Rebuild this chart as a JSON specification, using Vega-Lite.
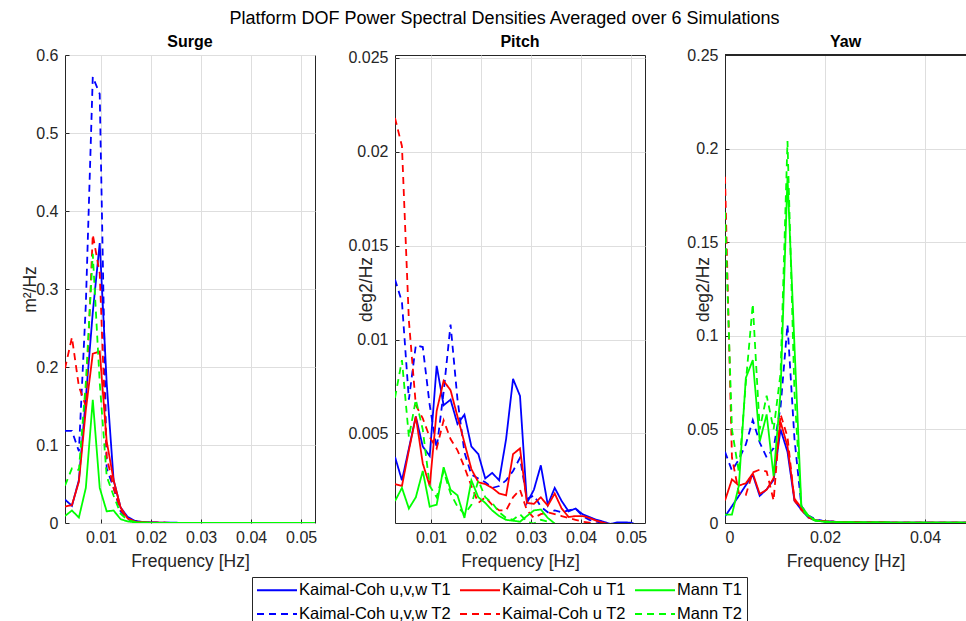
{
  "$schema": "https://vega.github.io/schema/vega-lite/v6.json",
  "autosize": {"type": "pad"},
  "padding": {"left": 20, "top": 10, "right": 0, "bottom": 0},
  "background": "white",
  "title": {"text": "Platform DOF Power Spectral Densities Averaged over 6 Simulations", "fontSize": 18, "fontWeight": "normal", "color": "black", "anchor": "middle", "offset": 5, "dx": 11},
  "config": {
    "font": "Liberation Sans",
    "view": {"stroke": "#262626", "strokeWidth": 1},
    "axis": {"gridColor": "#dedede", "gridWidth": 1, "labelFontSize": 16, "labelColor": "#262626", "titleFontSize": 17.5, "titleFontWeight": "normal", "titleColor": "#262626", "ticks": true, "tickSize": -4, "tickColor": "#262626", "tickWidth": 1, "domain": false, "labelPadding": 11, "labelFont": "Liberation Sans", "titleFont": "Liberation Sans"},
    "title": {"font": "Liberation Sans"},
    "legend": {"labelFont": "Liberation Sans"}
  },
  "datasets": {
    "surge": [
      {"s":"Kaimal-Coh u,v,w T1","f":0.002778,"v":0.03},{"s":"Kaimal-Coh u,v,w T1","f":0.004167,"v":0.022},{"s":"Kaimal-Coh u,v,w T1","f":0.005556,"v":0.055},{"s":"Kaimal-Coh u,v,w T1","f":0.006944,"v":0.16},{"s":"Kaimal-Coh u,v,w T1","f":0.008333,"v":0.27},{"s":"Kaimal-Coh u,v,w T1","f":0.009722,"v":0.359},{"s":"Kaimal-Coh u,v,w T1","f":0.011111,"v":0.18},{"s":"Kaimal-Coh u,v,w T1","f":0.0125,"v":0.055},{"s":"Kaimal-Coh u,v,w T1","f":0.013889,"v":0.02},{"s":"Kaimal-Coh u,v,w T1","f":0.015278,"v":0.008},{"s":"Kaimal-Coh u,v,w T1","f":0.016667,"v":0.003},{"s":"Kaimal-Coh u,v,w T1","f":0.018056,"v":0.0015},{"s":"Kaimal-Coh u,v,w T1","f":0.019444,"v":0.001},{"s":"Kaimal-Coh u,v,w T1","f":0.022222,"v":0.0004},{"s":"Kaimal-Coh u,v,w T1","f":0.027778,"v":0.0002},{"s":"Kaimal-Coh u,v,w T1","f":0.038889,"v":0.0001},{"s":"Kaimal-Coh u,v,w T1","f":0.052778,"v":0.0001},
      {"s":"Kaimal-Coh u,v,w T2","f":0.002778,"v":0.118},{"s":"Kaimal-Coh u,v,w T2","f":0.004167,"v":0.118},{"s":"Kaimal-Coh u,v,w T2","f":0.005556,"v":0.092},{"s":"Kaimal-Coh u,v,w T2","f":0.006944,"v":0.28},{"s":"Kaimal-Coh u,v,w T2","f":0.008333,"v":0.572},{"s":"Kaimal-Coh u,v,w T2","f":0.009722,"v":0.55},{"s":"Kaimal-Coh u,v,w T2","f":0.011111,"v":0.07},{"s":"Kaimal-Coh u,v,w T2","f":0.0125,"v":0.045},{"s":"Kaimal-Coh u,v,w T2","f":0.013889,"v":0.015},{"s":"Kaimal-Coh u,v,w T2","f":0.015278,"v":0.005},{"s":"Kaimal-Coh u,v,w T2","f":0.016667,"v":0.002},{"s":"Kaimal-Coh u,v,w T2","f":0.018056,"v":0.001},{"s":"Kaimal-Coh u,v,w T2","f":0.019444,"v":0.0006},{"s":"Kaimal-Coh u,v,w T2","f":0.022222,"v":0.0003},{"s":"Kaimal-Coh u,v,w T2","f":0.027778,"v":0.0002},{"s":"Kaimal-Coh u,v,w T2","f":0.038889,"v":0.0001},{"s":"Kaimal-Coh u,v,w T2","f":0.052778,"v":0.0001},
      {"s":"Kaimal-Coh u T1","f":0.002778,"v":0.021},{"s":"Kaimal-Coh u T1","f":0.004167,"v":0.023},{"s":"Kaimal-Coh u T1","f":0.005556,"v":0.053},{"s":"Kaimal-Coh u T1","f":0.006944,"v":0.145},{"s":"Kaimal-Coh u T1","f":0.008333,"v":0.217},{"s":"Kaimal-Coh u T1","f":0.009722,"v":0.22},{"s":"Kaimal-Coh u T1","f":0.011111,"v":0.105},{"s":"Kaimal-Coh u T1","f":0.0125,"v":0.055},{"s":"Kaimal-Coh u T1","f":0.013889,"v":0.02},{"s":"Kaimal-Coh u T1","f":0.015278,"v":0.006},{"s":"Kaimal-Coh u T1","f":0.016667,"v":0.002},{"s":"Kaimal-Coh u T1","f":0.018056,"v":0.001},{"s":"Kaimal-Coh u T1","f":0.019444,"v":0.0007},{"s":"Kaimal-Coh u T1","f":0.022222,"v":0.0003},{"s":"Kaimal-Coh u T1","f":0.027778,"v":0.0002},{"s":"Kaimal-Coh u T1","f":0.038889,"v":0.0001},{"s":"Kaimal-Coh u T1","f":0.052778,"v":0.0001},
      {"s":"Kaimal-Coh u T2","f":0.002778,"v":0.198},{"s":"Kaimal-Coh u T2","f":0.004167,"v":0.238},{"s":"Kaimal-Coh u T2","f":0.005556,"v":0.175},{"s":"Kaimal-Coh u T2","f":0.006944,"v":0.15},{"s":"Kaimal-Coh u T2","f":0.008333,"v":0.37},{"s":"Kaimal-Coh u T2","f":0.009722,"v":0.32},{"s":"Kaimal-Coh u T2","f":0.011111,"v":0.085},{"s":"Kaimal-Coh u T2","f":0.0125,"v":0.045},{"s":"Kaimal-Coh u T2","f":0.013889,"v":0.017},{"s":"Kaimal-Coh u T2","f":0.015278,"v":0.006},{"s":"Kaimal-Coh u T2","f":0.016667,"v":0.002},{"s":"Kaimal-Coh u T2","f":0.018056,"v":0.001},{"s":"Kaimal-Coh u T2","f":0.019444,"v":0.0006},{"s":"Kaimal-Coh u T2","f":0.022222,"v":0.0003},{"s":"Kaimal-Coh u T2","f":0.027778,"v":0.0002},{"s":"Kaimal-Coh u T2","f":0.038889,"v":0.0001},{"s":"Kaimal-Coh u T2","f":0.052778,"v":0.0001},
      {"s":"Mann T1","f":0.002778,"v":0.009},{"s":"Mann T1","f":0.004167,"v":0.016},{"s":"Mann T1","f":0.005556,"v":0.007},{"s":"Mann T1","f":0.006944,"v":0.045},{"s":"Mann T1","f":0.008333,"v":0.158},{"s":"Mann T1","f":0.009722,"v":0.045},{"s":"Mann T1","f":0.011111,"v":0.015},{"s":"Mann T1","f":0.0125,"v":0.016},{"s":"Mann T1","f":0.013889,"v":0.005},{"s":"Mann T1","f":0.015278,"v":0.002},{"s":"Mann T1","f":0.016667,"v":0.001},{"s":"Mann T1","f":0.018056,"v":0.0005},{"s":"Mann T1","f":0.019444,"v":0.0003},{"s":"Mann T1","f":0.022222,"v":0.0002},{"s":"Mann T1","f":0.027778,"v":0.0001},{"s":"Mann T1","f":0.038889,"v":0.0001},{"s":"Mann T1","f":0.052778,"v":0.0001},
      {"s":"Mann T2","f":0.002778,"v":0.048},{"s":"Mann T2","f":0.004167,"v":0.07},{"s":"Mann T2","f":0.005556,"v":0.068},{"s":"Mann T2","f":0.006944,"v":0.18},{"s":"Mann T2","f":0.008333,"v":0.345},{"s":"Mann T2","f":0.009722,"v":0.18},{"s":"Mann T2","f":0.011111,"v":0.06},{"s":"Mann T2","f":0.0125,"v":0.035},{"s":"Mann T2","f":0.013889,"v":0.012},{"s":"Mann T2","f":0.015278,"v":0.004},{"s":"Mann T2","f":0.016667,"v":0.0015},{"s":"Mann T2","f":0.018056,"v":0.0006},{"s":"Mann T2","f":0.019444,"v":0.0003},{"s":"Mann T2","f":0.022222,"v":0.0002},{"s":"Mann T2","f":0.027778,"v":0.0001},{"s":"Mann T2","f":0.038889,"v":0.0001},{"s":"Mann T2","f":0.052778,"v":0.0001}
    ],
    "pitch": [
      {"s":"Kaimal-Coh u,v,w T1","f":0.002778,"v":0.00375},{"s":"Kaimal-Coh u,v,w T1","f":0.004167,"v":0.0025},{"s":"Kaimal-Coh u,v,w T1","f":0.005556,"v":0.0042},{"s":"Kaimal-Coh u,v,w T1","f":0.006944,"v":0.0059},{"s":"Kaimal-Coh u,v,w T1","f":0.008333,"v":0.0043},{"s":"Kaimal-Coh u,v,w T1","f":0.009722,"v":0.0038},{"s":"Kaimal-Coh u,v,w T1","f":0.011111,"v":0.0086},{"s":"Kaimal-Coh u,v,w T1","f":0.0125,"v":0.0065},{"s":"Kaimal-Coh u,v,w T1","f":0.013889,"v":0.0068},{"s":"Kaimal-Coh u,v,w T1","f":0.015278,"v":0.0055},{"s":"Kaimal-Coh u,v,w T1","f":0.016667,"v":0.006},{"s":"Kaimal-Coh u,v,w T1","f":0.018056,"v":0.0043},{"s":"Kaimal-Coh u,v,w T1","f":0.019444,"v":0.0039},{"s":"Kaimal-Coh u,v,w T1","f":0.020833,"v":0.0026},{"s":"Kaimal-Coh u,v,w T1","f":0.022222,"v":0.0029},{"s":"Kaimal-Coh u,v,w T1","f":0.023611,"v":0.0025},{"s":"Kaimal-Coh u,v,w T1","f":0.025,"v":0.0047},{"s":"Kaimal-Coh u,v,w T1","f":0.026389,"v":0.0079},{"s":"Kaimal-Coh u,v,w T1","f":0.027778,"v":0.007},{"s":"Kaimal-Coh u,v,w T1","f":0.029167,"v":0.0013},{"s":"Kaimal-Coh u,v,w T1","f":0.030556,"v":0.002},{"s":"Kaimal-Coh u,v,w T1","f":0.031944,"v":0.0033},{"s":"Kaimal-Coh u,v,w T1","f":0.033333,"v":0.0012},{"s":"Kaimal-Coh u,v,w T1","f":0.034722,"v":0.0021},{"s":"Kaimal-Coh u,v,w T1","f":0.036111,"v":0.0014},{"s":"Kaimal-Coh u,v,w T1","f":0.0375,"v":0.00085},{"s":"Kaimal-Coh u,v,w T1","f":0.038889,"v":0.001},{"s":"Kaimal-Coh u,v,w T1","f":0.040278,"v":0.0007},{"s":"Kaimal-Coh u,v,w T1","f":0.041667,"v":0.00055},{"s":"Kaimal-Coh u,v,w T1","f":0.043056,"v":0.0004},{"s":"Kaimal-Coh u,v,w T1","f":0.044444,"v":0.0003},{"s":"Kaimal-Coh u,v,w T1","f":0.045833,"v":0.00018},{"s":"Kaimal-Coh u,v,w T1","f":0.047222,"v":0.00026},{"s":"Kaimal-Coh u,v,w T1","f":0.048611,"v":0.00026},{"s":"Kaimal-Coh u,v,w T1","f":0.05,"v":0.00025},{"s":"Kaimal-Coh u,v,w T1","f":0.051389,"v":0.0001},{"s":"Kaimal-Coh u,v,w T1","f":0.052778,"v":0.0001},
      {"s":"Kaimal-Coh u,v,w T2","f":0.002778,"v":0.0132},{"s":"Kaimal-Coh u,v,w T2","f":0.004167,"v":0.012},{"s":"Kaimal-Coh u,v,w T2","f":0.005556,"v":0.0068},{"s":"Kaimal-Coh u,v,w T2","f":0.006944,"v":0.0097},{"s":"Kaimal-Coh u,v,w T2","f":0.008333,"v":0.0096},{"s":"Kaimal-Coh u,v,w T2","f":0.009722,"v":0.0065},{"s":"Kaimal-Coh u,v,w T2","f":0.011111,"v":0.0042},{"s":"Kaimal-Coh u,v,w T2","f":0.0125,"v":0.0072},{"s":"Kaimal-Coh u,v,w T2","f":0.013889,"v":0.0108},{"s":"Kaimal-Coh u,v,w T2","f":0.015278,"v":0.0068},{"s":"Kaimal-Coh u,v,w T2","f":0.016667,"v":0.004},{"s":"Kaimal-Coh u,v,w T2","f":0.018056,"v":0.0028},{"s":"Kaimal-Coh u,v,w T2","f":0.019444,"v":0.0026},{"s":"Kaimal-Coh u,v,w T2","f":0.020833,"v":0.0024},{"s":"Kaimal-Coh u,v,w T2","f":0.022222,"v":0.0021},{"s":"Kaimal-Coh u,v,w T2","f":0.023611,"v":0.0022},{"s":"Kaimal-Coh u,v,w T2","f":0.025,"v":0.0025},{"s":"Kaimal-Coh u,v,w T2","f":0.026389,"v":0.003},{"s":"Kaimal-Coh u,v,w T2","f":0.027778,"v":0.0037},{"s":"Kaimal-Coh u,v,w T2","f":0.029167,"v":0.0015},{"s":"Kaimal-Coh u,v,w T2","f":0.030556,"v":0.0017},{"s":"Kaimal-Coh u,v,w T2","f":0.031944,"v":0.0011},{"s":"Kaimal-Coh u,v,w T2","f":0.033333,"v":0.0008},{"s":"Kaimal-Coh u,v,w T2","f":0.034722,"v":0.0009},{"s":"Kaimal-Coh u,v,w T2","f":0.036111,"v":0.0008},{"s":"Kaimal-Coh u,v,w T2","f":0.0375,"v":0.0009},{"s":"Kaimal-Coh u,v,w T2","f":0.038889,"v":0.001},{"s":"Kaimal-Coh u,v,w T2","f":0.040278,"v":0.0006},{"s":"Kaimal-Coh u,v,w T2","f":0.041667,"v":0.0004},{"s":"Kaimal-Coh u,v,w T2","f":0.043056,"v":0.0003},{"s":"Kaimal-Coh u,v,w T2","f":0.044444,"v":0.00022},{"s":"Kaimal-Coh u,v,w T2","f":0.045833,"v":0.00015},
      {"s":"Kaimal-Coh u T1","f":0.002778,"v":0.0023},{"s":"Kaimal-Coh u T1","f":0.004167,"v":0.0022},{"s":"Kaimal-Coh u T1","f":0.005556,"v":0.0041},{"s":"Kaimal-Coh u T1","f":0.006944,"v":0.0059},{"s":"Kaimal-Coh u T1","f":0.008333,"v":0.0034},{"s":"Kaimal-Coh u T1","f":0.009722,"v":0.0022},{"s":"Kaimal-Coh u T1","f":0.011111,"v":0.0062},{"s":"Kaimal-Coh u T1","f":0.0125,"v":0.0078},{"s":"Kaimal-Coh u T1","f":0.013889,"v":0.0073},{"s":"Kaimal-Coh u T1","f":0.015278,"v":0.0059},{"s":"Kaimal-Coh u T1","f":0.016667,"v":0.0045},{"s":"Kaimal-Coh u T1","f":0.018056,"v":0.0031},{"s":"Kaimal-Coh u T1","f":0.019444,"v":0.0024},{"s":"Kaimal-Coh u T1","f":0.020833,"v":0.0023},{"s":"Kaimal-Coh u T1","f":0.022222,"v":0.0021},{"s":"Kaimal-Coh u T1","f":0.023611,"v":0.0018},{"s":"Kaimal-Coh u T1","f":0.025,"v":0.0017},{"s":"Kaimal-Coh u T1","f":0.026389,"v":0.0039},{"s":"Kaimal-Coh u T1","f":0.027778,"v":0.0042},{"s":"Kaimal-Coh u T1","f":0.029167,"v":0.0013},{"s":"Kaimal-Coh u T1","f":0.030556,"v":0.00125},{"s":"Kaimal-Coh u T1","f":0.031944,"v":0.0016},{"s":"Kaimal-Coh u T1","f":0.033333,"v":0.00115},{"s":"Kaimal-Coh u T1","f":0.034722,"v":0.0018},{"s":"Kaimal-Coh u T1","f":0.036111,"v":0.001},{"s":"Kaimal-Coh u T1","f":0.0375,"v":0.00055},{"s":"Kaimal-Coh u T1","f":0.038889,"v":0.0006},{"s":"Kaimal-Coh u T1","f":0.040278,"v":0.0006},{"s":"Kaimal-Coh u T1","f":0.041667,"v":0.0005},{"s":"Kaimal-Coh u T1","f":0.043056,"v":0.00035},{"s":"Kaimal-Coh u T1","f":0.044444,"v":0.00025},{"s":"Kaimal-Coh u T1","f":0.045833,"v":0.00015},{"s":"Kaimal-Coh u T1","f":0.047222,"v":0.0001},
      {"s":"Kaimal-Coh u T2","f":0.002778,"v":0.0218},{"s":"Kaimal-Coh u T2","f":0.004167,"v":0.0203},{"s":"Kaimal-Coh u T2","f":0.005556,"v":0.011},{"s":"Kaimal-Coh u T2","f":0.006944,"v":0.0065},{"s":"Kaimal-Coh u T2","f":0.008333,"v":0.0058},{"s":"Kaimal-Coh u T2","f":0.009722,"v":0.0048},{"s":"Kaimal-Coh u T2","f":0.011111,"v":0.0042},{"s":"Kaimal-Coh u T2","f":0.0125,"v":0.0057},{"s":"Kaimal-Coh u T2","f":0.013889,"v":0.0047},{"s":"Kaimal-Coh u T2","f":0.015278,"v":0.0041},{"s":"Kaimal-Coh u T2","f":0.016667,"v":0.0032},{"s":"Kaimal-Coh u T2","f":0.018056,"v":0.0022},{"s":"Kaimal-Coh u T2","f":0.019444,"v":0.0013},{"s":"Kaimal-Coh u T2","f":0.020833,"v":0.0016},{"s":"Kaimal-Coh u T2","f":0.022222,"v":0.0012},{"s":"Kaimal-Coh u T2","f":0.023611,"v":0.0009},{"s":"Kaimal-Coh u T2","f":0.025,"v":0.0009},{"s":"Kaimal-Coh u T2","f":0.026389,"v":0.0016},{"s":"Kaimal-Coh u T2","f":0.027778,"v":0.002},{"s":"Kaimal-Coh u T2","f":0.029167,"v":0.0009},{"s":"Kaimal-Coh u T2","f":0.030556,"v":0.0005},{"s":"Kaimal-Coh u T2","f":0.031944,"v":0.0007},{"s":"Kaimal-Coh u T2","f":0.033333,"v":0.0008},{"s":"Kaimal-Coh u T2","f":0.034722,"v":0.0007},{"s":"Kaimal-Coh u T2","f":0.036111,"v":0.0006},{"s":"Kaimal-Coh u T2","f":0.0375,"v":0.0005},{"s":"Kaimal-Coh u T2","f":0.038889,"v":0.0004},{"s":"Kaimal-Coh u T2","f":0.040278,"v":0.0003},{"s":"Kaimal-Coh u T2","f":0.041667,"v":0.00025},{"s":"Kaimal-Coh u T2","f":0.043056,"v":0.0002},{"s":"Kaimal-Coh u T2","f":0.044444,"v":0.00015},
      {"s":"Mann T1","f":0.002778,"v":0.0014},{"s":"Mann T1","f":0.004167,"v":0.0021},{"s":"Mann T1","f":0.005556,"v":0.001},{"s":"Mann T1","f":0.006944,"v":0.0016},{"s":"Mann T1","f":0.008333,"v":0.003},{"s":"Mann T1","f":0.009722,"v":0.0011},{"s":"Mann T1","f":0.011111,"v":0.0012},{"s":"Mann T1","f":0.0125,"v":0.0032},{"s":"Mann T1","f":0.013889,"v":0.002},{"s":"Mann T1","f":0.015278,"v":0.0017},{"s":"Mann T1","f":0.016667,"v":0.0005},{"s":"Mann T1","f":0.018056,"v":0.0025},{"s":"Mann T1","f":0.019444,"v":0.0016},{"s":"Mann T1","f":0.020833,"v":0.0013},{"s":"Mann T1","f":0.022222,"v":0.0009},{"s":"Mann T1","f":0.023611,"v":0.0006},{"s":"Mann T1","f":0.025,"v":0.0004},{"s":"Mann T1","f":0.026389,"v":0.00035},{"s":"Mann T1","f":0.027778,"v":0.0003},{"s":"Mann T1","f":0.029167,"v":0.0006},{"s":"Mann T1","f":0.030556,"v":0.0009},{"s":"Mann T1","f":0.031944,"v":0.00095},{"s":"Mann T1","f":0.033333,"v":0.0005},{"s":"Mann T1","f":0.034722,"v":0.0002},{"s":"Mann T1","f":0.036111,"v":0.0001},{"s":"Mann T1","f":0.0375,"v":0.00005},
      {"s":"Mann T2","f":0.002778,"v":0.0069},{"s":"Mann T2","f":0.004167,"v":0.0089},{"s":"Mann T2","f":0.005556,"v":0.0048},{"s":"Mann T2","f":0.006944,"v":0.0068},{"s":"Mann T2","f":0.008333,"v":0.0052},{"s":"Mann T2","f":0.009722,"v":0.0022},{"s":"Mann T2","f":0.011111,"v":0.0016},{"s":"Mann T2","f":0.0125,"v":0.003},{"s":"Mann T2","f":0.013889,"v":0.0018},{"s":"Mann T2","f":0.015278,"v":0.0011},{"s":"Mann T2","f":0.016667,"v":0.0007},{"s":"Mann T2","f":0.018056,"v":0.0012},{"s":"Mann T2","f":0.019444,"v":0.0025},{"s":"Mann T2","f":0.020833,"v":0.0016},{"s":"Mann T2","f":0.022222,"v":0.0013},{"s":"Mann T2","f":0.023611,"v":0.0008},{"s":"Mann T2","f":0.025,"v":0.0005},{"s":"Mann T2","f":0.026389,"v":0.0004},{"s":"Mann T2","f":0.027778,"v":0.0007},{"s":"Mann T2","f":0.029167,"v":0.0003},{"s":"Mann T2","f":0.030556,"v":0.0002},{"s":"Mann T2","f":0.031944,"v":0.0004},{"s":"Mann T2","f":0.033333,"v":0.0003},{"s":"Mann T2","f":0.034722,"v":0.0001}
    ],
    "yaw": [
      {"s":"Kaimal-Coh u,v,w T1","f":0,"v":0.0035},{"s":"Kaimal-Coh u,v,w T1","f":0.001389,"v":0.009},{"s":"Kaimal-Coh u,v,w T1","f":0.002778,"v":0.0145},{"s":"Kaimal-Coh u,v,w T1","f":0.004167,"v":0.0202},{"s":"Kaimal-Coh u,v,w T1","f":0.005556,"v":0.0258},{"s":"Kaimal-Coh u,v,w T1","f":0.006944,"v":0.0145},{"s":"Kaimal-Coh u,v,w T1","f":0.008333,"v":0.018},{"s":"Kaimal-Coh u,v,w T1","f":0.009722,"v":0.023},{"s":"Kaimal-Coh u,v,w T1","f":0.011111,"v":0.05},{"s":"Kaimal-Coh u,v,w T1","f":0.0125,"v":0.038},{"s":"Kaimal-Coh u,v,w T1","f":0.013889,"v":0.012},{"s":"Kaimal-Coh u,v,w T1","f":0.015278,"v":0.007},{"s":"Kaimal-Coh u,v,w T1","f":0.016667,"v":0.003},{"s":"Kaimal-Coh u,v,w T1","f":0.018056,"v":0.0015},{"s":"Kaimal-Coh u,v,w T1","f":0.019444,"v":0.001},{"s":"Kaimal-Coh u,v,w T1","f":0.022222,"v":0.0006},{"s":"Kaimal-Coh u,v,w T1","f":0.027778,"v":0.0003},{"s":"Kaimal-Coh u,v,w T1","f":0.038889,"v":0.0002},{"s":"Kaimal-Coh u,v,w T1","f":0.052778,"v":0.0001},
      {"s":"Kaimal-Coh u,v,w T2","f":0,"v":0.038},{"s":"Kaimal-Coh u,v,w T2","f":0.001389,"v":0.028},{"s":"Kaimal-Coh u,v,w T2","f":0.002778,"v":0.034},{"s":"Kaimal-Coh u,v,w T2","f":0.004167,"v":0.042},{"s":"Kaimal-Coh u,v,w T2","f":0.005556,"v":0.055},{"s":"Kaimal-Coh u,v,w T2","f":0.006944,"v":0.043},{"s":"Kaimal-Coh u,v,w T2","f":0.008333,"v":0.035},{"s":"Kaimal-Coh u,v,w T2","f":0.009722,"v":0.04},{"s":"Kaimal-Coh u,v,w T2","f":0.011111,"v":0.062},{"s":"Kaimal-Coh u,v,w T2","f":0.0125,"v":0.106},{"s":"Kaimal-Coh u,v,w T2","f":0.013889,"v":0.045},{"s":"Kaimal-Coh u,v,w T2","f":0.015278,"v":0.009},{"s":"Kaimal-Coh u,v,w T2","f":0.016667,"v":0.004},{"s":"Kaimal-Coh u,v,w T2","f":0.018056,"v":0.002},{"s":"Kaimal-Coh u,v,w T2","f":0.019444,"v":0.0012},{"s":"Kaimal-Coh u,v,w T2","f":0.022222,"v":0.0006},{"s":"Kaimal-Coh u,v,w T2","f":0.027778,"v":0.0003},{"s":"Kaimal-Coh u,v,w T2","f":0.038889,"v":0.0002},{"s":"Kaimal-Coh u,v,w T2","f":0.052778,"v":0.0001},
      {"s":"Kaimal-Coh u T1","f":0,"v":0.012},{"s":"Kaimal-Coh u T1","f":0.001389,"v":0.0233},{"s":"Kaimal-Coh u T1","f":0.002778,"v":0.02},{"s":"Kaimal-Coh u T1","f":0.004167,"v":0.0212},{"s":"Kaimal-Coh u T1","f":0.005556,"v":0.0265},{"s":"Kaimal-Coh u T1","f":0.006944,"v":0.0155},{"s":"Kaimal-Coh u T1","f":0.008333,"v":0.0178},{"s":"Kaimal-Coh u T1","f":0.009722,"v":0.024},{"s":"Kaimal-Coh u T1","f":0.011111,"v":0.054},{"s":"Kaimal-Coh u T1","f":0.0125,"v":0.041},{"s":"Kaimal-Coh u T1","f":0.013889,"v":0.013},{"s":"Kaimal-Coh u T1","f":0.015278,"v":0.008},{"s":"Kaimal-Coh u T1","f":0.016667,"v":0.0035},{"s":"Kaimal-Coh u T1","f":0.018056,"v":0.0015},{"s":"Kaimal-Coh u T1","f":0.019444,"v":0.001},{"s":"Kaimal-Coh u T1","f":0.022222,"v":0.0006},{"s":"Kaimal-Coh u T1","f":0.027778,"v":0.0003},{"s":"Kaimal-Coh u T1","f":0.038889,"v":0.0002},{"s":"Kaimal-Coh u T1","f":0.052778,"v":0.0001},
      {"s":"Kaimal-Coh u T2","f":0,"v":0.185},{"s":"Kaimal-Coh u T2","f":0.001389,"v":0.035},{"s":"Kaimal-Coh u T2","f":0.002778,"v":0.016},{"s":"Kaimal-Coh u T2","f":0.004167,"v":0.015},{"s":"Kaimal-Coh u T2","f":0.005556,"v":0.027},{"s":"Kaimal-Coh u T2","f":0.006944,"v":0.0285},{"s":"Kaimal-Coh u T2","f":0.008333,"v":0.0275},{"s":"Kaimal-Coh u T2","f":0.009722,"v":0.012},{"s":"Kaimal-Coh u T2","f":0.011111,"v":0.058},{"s":"Kaimal-Coh u T2","f":0.0125,"v":0.046},{"s":"Kaimal-Coh u T2","f":0.013889,"v":0.012},{"s":"Kaimal-Coh u T2","f":0.015278,"v":0.007},{"s":"Kaimal-Coh u T2","f":0.016667,"v":0.003},{"s":"Kaimal-Coh u T2","f":0.018056,"v":0.0015},{"s":"Kaimal-Coh u T2","f":0.019444,"v":0.001},{"s":"Kaimal-Coh u T2","f":0.022222,"v":0.0006},{"s":"Kaimal-Coh u T2","f":0.027778,"v":0.0003},{"s":"Kaimal-Coh u T2","f":0.038889,"v":0.0002},{"s":"Kaimal-Coh u T2","f":0.052778,"v":0.0001},
      {"s":"Mann T1","f":0,"v":0.0045},{"s":"Mann T1","f":0.001389,"v":0.0045},{"s":"Mann T1","f":0.002778,"v":0.02},{"s":"Mann T1","f":0.004167,"v":0.0775},{"s":"Mann T1","f":0.005556,"v":0.087},{"s":"Mann T1","f":0.006944,"v":0.0436},{"s":"Mann T1","f":0.008333,"v":0.058},{"s":"Mann T1","f":0.009722,"v":0.025},{"s":"Mann T1","f":0.011111,"v":0.07},{"s":"Mann T1","f":0.0125,"v":0.185},{"s":"Mann T1","f":0.013889,"v":0.095},{"s":"Mann T1","f":0.015278,"v":0.009},{"s":"Mann T1","f":0.016667,"v":0.004},{"s":"Mann T1","f":0.018056,"v":0.0015},{"s":"Mann T1","f":0.019444,"v":0.0008},{"s":"Mann T1","f":0.022222,"v":0.0005},{"s":"Mann T1","f":0.027778,"v":0.0003},{"s":"Mann T1","f":0.038889,"v":0.0002},{"s":"Mann T1","f":0.052778,"v":0.0001},
      {"s":"Mann T2","f":0,"v":0.166},{"s":"Mann T2","f":0.001389,"v":0.05},{"s":"Mann T2","f":0.002778,"v":0.027},{"s":"Mann T2","f":0.004167,"v":0.075},{"s":"Mann T2","f":0.005556,"v":0.117},{"s":"Mann T2","f":0.006944,"v":0.05},{"s":"Mann T2","f":0.008333,"v":0.068},{"s":"Mann T2","f":0.009722,"v":0.05},{"s":"Mann T2","f":0.011111,"v":0.08},{"s":"Mann T2","f":0.0125,"v":0.204},{"s":"Mann T2","f":0.013889,"v":0.07},{"s":"Mann T2","f":0.015278,"v":0.008},{"s":"Mann T2","f":0.016667,"v":0.003},{"s":"Mann T2","f":0.018056,"v":0.0012},{"s":"Mann T2","f":0.019444,"v":0.0007},{"s":"Mann T2","f":0.022222,"v":0.0004},{"s":"Mann T2","f":0.027778,"v":0.0003},{"s":"Mann T2","f":0.038889,"v":0.0002},{"s":"Mann T2","f":0.052778,"v":0.0001}
    ]
  },
  "hconcat": [
    {
      "width": 250, "height": 468,
      "title": {"text": "Surge", "fontSize": 16, "fontWeight": "bold", "color": "black", "offset": -3, "frame": "group"},
      "data": {"name": "surge"},
      "mark": {"type": "line", "clip": true, "strokeWidth": 1.8},
      "encoding": {
        "x": {"field": "f", "type": "quantitative", "scale": {"domain": [0.0027778, 0.0527778], "nice": false, "zero": false}, "axis": {"values": [0.01, 0.02, 0.03, 0.04, 0.05], "format": "~g", "title": "Frequency [Hz]", "labelPadding": 10, "titlePadding": 7}},
        "y": {"field": "v", "type": "quantitative", "scale": {"domain": [0, 0.6], "nice": false}, "axis": {"values": [0, 0.1, 0.2, 0.3, 0.4, 0.5, 0.6], "format": "~g", "title": "m²/Hz", "titleX": -35, "titleBaseline": "middle"}},
        "color": {"field": "s", "type": "nominal", "scale": {"domain": ["Kaimal-Coh u,v,w T1", "Kaimal-Coh u,v,w T2", "Kaimal-Coh u T1", "Kaimal-Coh u T2", "Mann T1", "Mann T2"], "range": ["#0000ff", "#0000ff", "#ff0000", "#ff0000", "#00ff00", "#00ff00"]}, "legend": {"title": null, "orient": "none", "legendX": 187, "legendY": 522, "columns": 3, "symbolType": "M-1,0H4", "symbolSize": 256, "symbolStrokeWidth": 1.8, "labelFontSize": 16.5, "labelColor": "black", "strokeColor": "#262626", "fillColor": "white", "padding": 4, "rowPadding": 6, "columnPadding": 5, "labelOffset": 25, "labelLimit": 300}},
        "strokeDash": {"field": "s", "type": "nominal", "scale": {"domain": ["Kaimal-Coh u,v,w T1", "Kaimal-Coh u,v,w T2", "Kaimal-Coh u T1", "Kaimal-Coh u T2", "Mann T1", "Mann T2"], "range": [[1, 0], [7, 5], [1, 0], [7, 5], [1, 0], [7, 5]]}, "legend": {"title": null, "orient": "none", "legendX": 187, "legendY": 522, "columns": 3, "symbolType": "M-1,0H4", "symbolSize": 256, "symbolStrokeWidth": 1.8, "labelFontSize": 16.5, "labelColor": "black", "strokeColor": "#262626", "fillColor": "white", "padding": 4, "rowPadding": 6, "columnPadding": 5, "labelOffset": 25, "labelLimit": 300}}
      }
    },
    {
      "width": 250, "height": 468,
      "title": {"text": "Pitch", "fontSize": 16, "fontWeight": "bold", "color": "black", "offset": 0, "frame": "group"},
      "data": {"name": "pitch"},
      "mark": {"type": "line", "clip": true, "strokeWidth": 1.8},
      "encoding": {
        "x": {"field": "f", "type": "quantitative", "scale": {"domain": [0.0027778, 0.0527778], "nice": false, "zero": false}, "axis": {"values": [0.01, 0.02, 0.03, 0.04, 0.05], "format": "~g", "title": "Frequency [Hz]", "labelPadding": 10, "titlePadding": 7}},
        "y": {"field": "v", "type": "quantitative", "scale": {"domain": [0.00023, 0.02515], "nice": false, "zero": false}, "axis": {"values": [0.005, 0.01, 0.015, 0.02, 0.025], "format": "~g", "title": "deg2/Hz", "titleX": -29, "titleBaseline": "middle"}},
        "color": {"field": "s", "type": "nominal", "scale": {"domain": ["Kaimal-Coh u,v,w T1", "Kaimal-Coh u,v,w T2", "Kaimal-Coh u T1", "Kaimal-Coh u T2", "Mann T1", "Mann T2"], "range": ["#0000ff", "#0000ff", "#ff0000", "#ff0000", "#00ff00", "#00ff00"]}, "legend": {"title": null, "orient": "none", "legendX": 187, "legendY": 522, "columns": 3, "symbolType": "M-1,0H4", "symbolSize": 256, "symbolStrokeWidth": 1.8, "labelFontSize": 16.5, "labelColor": "black", "strokeColor": "#262626", "fillColor": "white", "padding": 4, "rowPadding": 6, "columnPadding": 5, "labelOffset": 25, "labelLimit": 300}},
        "strokeDash": {"field": "s", "type": "nominal", "scale": {"domain": ["Kaimal-Coh u,v,w T1", "Kaimal-Coh u,v,w T2", "Kaimal-Coh u T1", "Kaimal-Coh u T2", "Mann T1", "Mann T2"], "range": [[1, 0], [7, 5], [1, 0], [7, 5], [1, 0], [7, 5]]}, "legend": {"title": null, "orient": "none", "legendX": 187, "legendY": 522, "columns": 3, "symbolType": "M-1,0H4", "symbolSize": 256, "symbolStrokeWidth": 1.8, "labelFontSize": 16.5, "labelColor": "black", "strokeColor": "#262626", "fillColor": "white", "padding": 4, "rowPadding": 6, "columnPadding": 5, "labelOffset": 25, "labelLimit": 300}}
      }
    },
    {
      "width": 241, "height": 468,
      "view": {"stroke": null},
      "title": {"text": "Yaw", "fontSize": 16, "fontWeight": "bold", "color": "black", "offset": -3, "frame": "group"},
      "data": {"name": "yaw"},
      "layer": [
        {
          "mark": {"type": "line", "clip": true, "strokeWidth": 1.8},
          "encoding": {
            "x": {"field": "f", "type": "quantitative", "scale": {"domain": [0, 0.0482], "nice": false, "zero": false}, "axis": {"values": [0, 0.02, 0.04], "format": "~g", "title": "Frequency [Hz]", "labelPadding": 10, "titlePadding": 7, "domain": true, "domainColor": "#262626"}},
            "y": {"field": "v", "type": "quantitative", "scale": {"domain": [0, 0.25], "nice": false}, "axis": {"values": [0, 0.05, 0.1, 0.15, 0.2, 0.25], "format": "~g", "title": "deg2/Hz", "titleX": -22, "titleBaseline": "middle", "domain": true, "domainColor": "#262626"}},
            "color": {"field": "s", "type": "nominal", "scale": {"domain": ["Kaimal-Coh u,v,w T1", "Kaimal-Coh u,v,w T2", "Kaimal-Coh u T1", "Kaimal-Coh u T2", "Mann T1", "Mann T2"], "range": ["#0000ff", "#0000ff", "#ff0000", "#ff0000", "#00ff00", "#00ff00"]}, "legend": {"title": null, "orient": "none", "legendX": 187, "legendY": 522, "columns": 3, "symbolType": "M-1,0H4", "symbolSize": 256, "symbolStrokeWidth": 1.8, "labelFontSize": 16.5, "labelColor": "black", "strokeColor": "#262626", "fillColor": "white", "padding": 4, "rowPadding": 6, "columnPadding": 5, "labelOffset": 25, "labelLimit": 300}},
            "strokeDash": {"field": "s", "type": "nominal", "scale": {"domain": ["Kaimal-Coh u,v,w T1", "Kaimal-Coh u,v,w T2", "Kaimal-Coh u T1", "Kaimal-Coh u T2", "Mann T1", "Mann T2"], "range": [[1, 0], [7, 5], [1, 0], [7, 5], [1, 0], [7, 5]]}, "legend": {"title": null, "orient": "none", "legendX": 187, "legendY": 522, "columns": 3, "symbolType": "M-1,0H4", "symbolSize": 256, "symbolStrokeWidth": 1.8, "labelFontSize": 16.5, "labelColor": "black", "strokeColor": "#262626", "fillColor": "white", "padding": 4, "rowPadding": 6, "columnPadding": 5, "labelOffset": 25, "labelLimit": 300}}
          }
        },
        {
          "mark": {"type": "rule", "color": "#262626", "strokeWidth": 1},
          "encoding": {"y": {"datum": 0.25, "type": "quantitative"}}
        }
      ]
    }
  ],
  "spacing": 80,
  "bounds": "flush"
}
